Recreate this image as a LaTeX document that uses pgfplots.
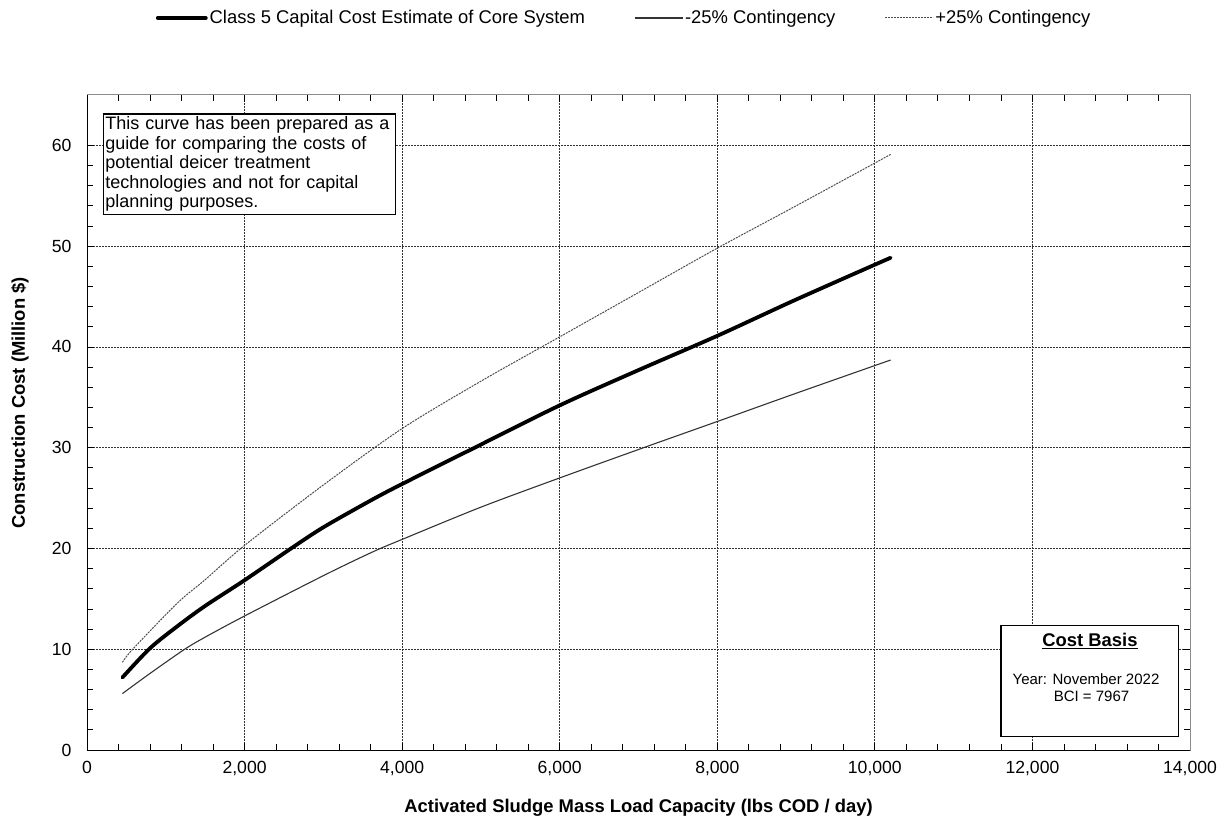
\documentclass[border=0pt]{standalone}
\usepackage{fontspec}
\setmainfont{Liberation Sans}
\usepackage{pgfplots}
\pgfplotsset{compat=1.18}

% Cost curve data (x: lbs COD/day, y: million $)
\pgfplotstableread{
x y
450 7.2
800 10.1
1150 12.3
1500 14.3
2000 16.85
2590 20.0
3000 22.1
3610 24.8
4000 26.4
4920 30.0
6000 34.2
7000 37.7
8000 41.1
9000 44.7
10200 48.85
}\coremain
\pgfplotstableread{
x y
450 5.6
800 7.6
1240 10.0
1500 11.2
2000 13.3
3000 17.3
3610 19.6
4000 20.9
5000 24.1
6000 27.0
7100 30.1
8000 32.6
9000 35.4
10200 38.7
}\corelow
\pgfplotstableread{
x y
450 8.7
580 10.0
1150 14.6
1500 16.9
2000 20.3
3000 26.3
4000 31.9
5000 36.6
6000 41.0
7000 45.4
8000 49.8
9000 54.0
10200 59.1
}\corehigh

\begin{document}
\begin{tikzpicture}[x=1pt,y=1pt]
\useasboundingbox (0,0) rectangle (1228,820);
\begin{axis}[
  at={(87pt,70pt)}, anchor=south west,
  scale only axis, width=1103pt, height=655pt,
  xmin=0, xmax=14000, ymin=0, ymax=65,
  xtick={0,2000,...,14000}, ytick={0,10,...,60},
  scaled x ticks=false,
  minor x tick num=4, minor y tick num=4,
  /pgf/number format/1000 sep={,},
  /pgf/number format/assume math mode=true,
  ticklabel style={font=\fontsize{17.6}{19}\selectfont},
  xticklabel style={yshift=-8pt},
  yticklabel style={xshift=-12pt},
  grid=major,
  major grid style={black!80, line width=0.8pt, dash pattern=on 2pt off 1pt},
  tick align=inside, major tick length=7pt, minor tick length=6pt,
  tick style={black, line width=0.8pt},
  axis line style={black!45, line width=1pt},
  xlabel={Activated Sludge Mass Load Capacity (lbs COD / day)},
  xlabel style={font=\bfseries\fontsize{18.4}{20}\selectfont, at={(axis description cs:0.5,-0.0885)}, anchor=center},
  ylabel={Construction Cost (Million \$)},
  ylabel style={font=\bfseries\fontsize{18.4}{20}\selectfont, at={(axis description cs:-0.0607,0.53)}, anchor=center},
  legend columns=3,
  legend style={at={(axis description cs:0.487,1.1176)}, anchor=center, draw=none, fill=none,
    font=\fontsize{18.4}{20}\selectfont,
    nodes={inner xsep=2pt},
    /tikz/column 2/.style={column sep=47pt},
    /tikz/column 4/.style={column sep=47pt}},
  legend cell align=left,
  legend image code/.code={\draw[#1] (0pt,0pt) -- (48pt,0pt);},
]
\addplot[black, line width=3.8pt, line cap=round, smooth] table {\coremain};
\addlegendentry{Class 5 Capital Cost Estimate of Core System}
\addplot[black!80, line width=1.1pt, smooth] table {\corelow};
\addlegendentry{-25\% Contingency}
\addplot[black!70, line width=1pt, dash pattern=on 2pt off 1pt, smooth] table {\corehigh};
\addlegendentry{+25\% Contingency}

% note box
\node[draw=black, line width=1.2pt, fill=white, anchor=north west, align=left,
  text width=288pt, inner xsep=2pt, inner ysep=3pt,
  font=\fontsize{18}{19.5}\selectfont]
  at (rel axis cs:0.0142,0.972)
  {This curve has been prepared as a\\ guide for comparing the costs of\\ potential deicer treatment\\ technologies and not for capital\\ planning purposes.};

% cost basis box
\draw[black, line width=1.2pt, fill=white] (rel axis cs:0.8287,0.0203) rectangle (rel axis cs:0.9898,0.1898);
\node[font=\bfseries\fontsize{18.4}{20}\selectfont] at (rel axis cs:0.9093,0.1664) {\underline{Cost Basis}};
\node[font=\fontsize{15}{17}\selectfont] at (rel axis cs:0.9057,0.1084) {Year: November 2022};
\node[font=\fontsize{15}{17}\selectfont] at (rel axis cs:0.9107,0.0824) {BCI = 7967};

% black left and bottom axis lines
\draw[black, line width=1pt] (rel axis cs:0,1) -- (rel axis cs:0,0) -- (rel axis cs:1,0);
\end{axis}
\end{tikzpicture}
\end{document}
